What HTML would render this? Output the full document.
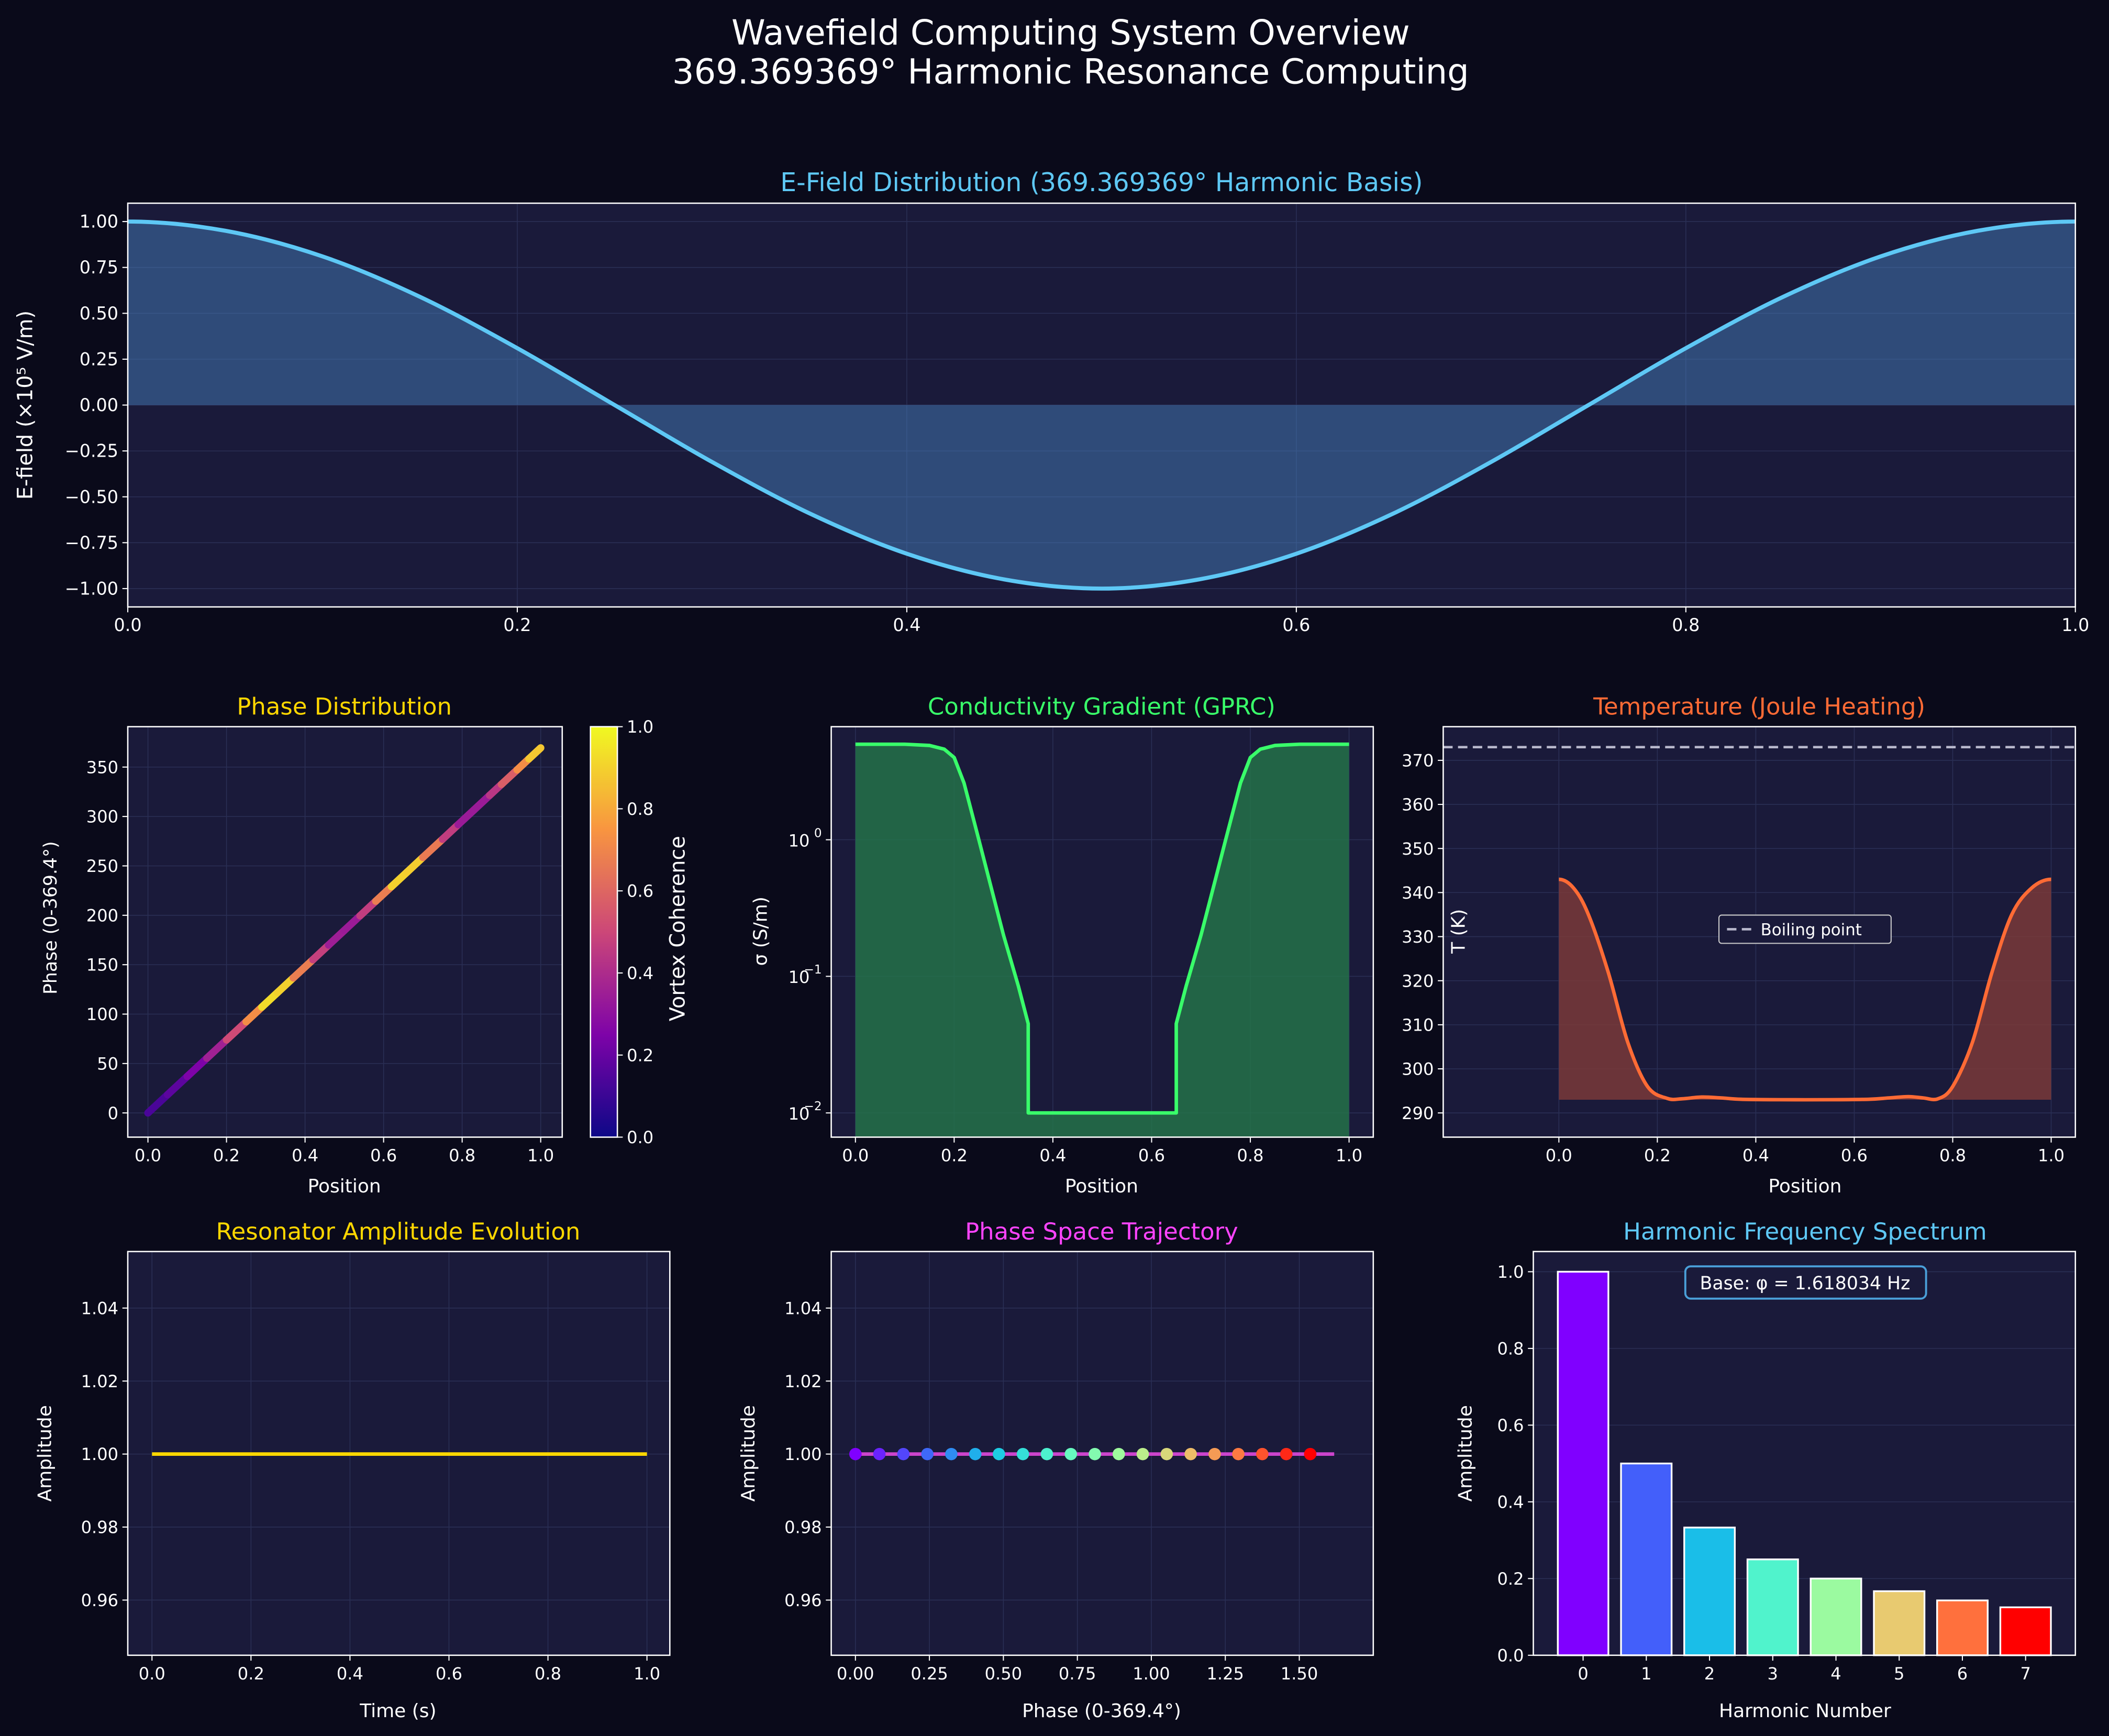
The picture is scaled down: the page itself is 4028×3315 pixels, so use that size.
<!DOCTYPE html>
<html><head><meta charset="utf-8"><style>
html,body{margin:0;padding:0;background:#0a0a1a;}
svg{display:block;font-family:"DejaVu Sans","Liberation Sans",sans-serif;}
</style></head><body>
<svg id="fig" xmlns="http://www.w3.org/2000/svg" width="4028" height="3315" viewBox="0 0 1568 1290" preserveAspectRatio="none">
<rect x="0" y="0" width="1568" height="1290" fill="#0a0a1a"/>
<text x="796" y="33" text-anchor="middle" font-size="25.5" fill="#ffffff">Wavefield Computing System Overview</text>
<text x="796" y="62" text-anchor="middle" font-size="25.5" fill="#ffffff">369.369369° Harmonic Resonance Computing</text>
</svg>
<script>
// ---------- data ----------
const efieldX = [0,0.05,0.1,0.15,0.2,0.25,0.3,0.35,0.4,0.45,0.5,0.55,0.6,0.65,0.7,0.75,0.8,0.85,0.9,0.95,1.0];
const efieldY = [1,0.95,0.81,0.59,0.31,0,-0.31,-0.59,-0.81,-0.95,-1,-0.95,-0.81,-0.59,-0.31,0,0.31,0.59,0.81,0.95,1];
const efieldYTicks = [-1.0,-0.75,-0.5,-0.25,0,0.25,0.5,0.75,1.0];
const efieldYLabels = ["\u22121.00","\u22120.75","\u22120.50","\u22120.25","0.00","0.25","0.50","0.75","1.00"];
const efieldXTicks = [0,0.2,0.4,0.6,0.8,1.0];

const phasePos = [0,0.05,0.1,0.15,0.2,0.25,0.29,0.33,0.37,0.42,0.46,0.5,0.54,0.58,0.62,0.66,0.7,0.75,0.79,0.83,0.87,0.9,0.94,0.97,1.0];
const phaseDeg = [0,18.5,36.9,55.4,73.9,92.3,107.1,121.9,136.7,155.1,169.9,184.7,199.5,214.3,229.0,243.8,258.6,277.0,291.8,306.6,321.4,332.5,347.2,358.3,369.4];
const phaseCoh = [0.12,0.15,0.2,0.3,0.42,0.6,0.85,1.0,0.8,0.55,0.4,0.3,0.38,0.55,0.8,1.0,0.78,0.55,0.38,0.3,0.38,0.5,0.65,0.8,0.95];
const phaseYTicks = [0,50,100,150,200,250,300,350];
const cbTicks = [0,0.2,0.4,0.6,0.8,1.0];

const condX = [0,0.1,0.15,0.18,0.2,0.22,0.25,0.28,0.3,0.33,0.35,0.3501,0.65,0.6499,0.67,0.7,0.72,0.75,0.78,0.8,0.82,0.85,0.9,1.0];
const condY = [5,5,4.9,4.6,4.0,2.6,1.0,0.38,0.2,0.085,0.045,0.01,0.01,0.045,0.085,0.2,0.38,1.0,2.6,4.0,4.6,4.9,5,5];
const condYTicks = [0.01,0.1,1];
const condYLabels = ["10","10","10"];
const condYExps = ["\u22122","\u22121","0"];
const posTicks = [0,0.2,0.4,0.6,0.8,1.0];

const tempX = [0,0.03,0.06,0.1,0.14,0.18,0.22,0.25,0.29,0.33,0.37,0.45,0.55,0.63,0.67,0.71,0.74,0.77,0.8,0.84,0.88,0.92,0.96,1.0];
const tempY = [343,341,335,322,306,296,293.3,293.2,293.6,293.4,293.1,293,293,293.1,293.4,293.7,293.4,293.2,296,306,322,335,341,343];
const tempYTicks = [290,300,310,320,330,340,350,360,370];
const boiling = [373];

const resT = [0,0.25,0.5,0.75,1.0];
const resA = [1,1,1,1,1];
const resYTicks = [0.96,0.98,1.00,1.02,1.04];

const psPhase = [0,0.081,0.162,0.243,0.324,0.405,0.485,0.566,0.647,0.728,0.809,0.890,0.971,1.052,1.133,1.214,1.294,1.375,1.456,1.537];
const psAmp = [1,1,1,1,1,1,1,1,1,1,1,1,1,1,1,1,1,1,1,1];
const psLineX = [0,1.618];
const psLineY = [1,1];
const psXTicks = [0,0.25,0.5,0.75,1.0,1.25,1.5];
const psXLabels = ["0.00","0.25","0.50","0.75","1.00","1.25","1.50"];

const harmN = [0,1,2,3,4,5,6,7];
const harmAmp = [1.0,0.5,0.333,0.25,0.2,0.167,0.143,0.125];
const harmYTicks = [0,0.2,0.4,0.6,0.8,1.0];

// ---------- helpers ----------
const NS = "http://www.w3.org/2000/svg";
const fig = document.getElementById('fig');
const TITLE_FS = 17.5, LABEL_FS = 14, TICK_FS = 12.5;
function mk(tag, attrs, parent) {
  const e = document.createElementNS(NS, tag);
  for (const k in attrs) e.setAttribute(k, attrs[k]);
  (parent || fig).appendChild(e);
  return e;
}
function lin(d0,d1,r0,r1){ return v => r0 + (v-d0)/(d1-d0)*(r1-r0); }
function smoothPath(pts){
  const n=pts.length;
  const first=[2*pts[0][0]-pts[1][0], pts[1][1]];
  const last=[2*pts[n-1][0]-pts[n-2][0], pts[n-2][1]];
  const P=[first].concat(pts,[last]);
  let d = "M"+pts[0][0]+","+pts[0][1];
  for (let i=1;i<P.length-2;i++){
    const p0=P[i-1], p1=P[i], p2=P[i+1], p3=P[i+2];
    const c1x=p1[0]+(p2[0]-p0[0])/6, c1y=p1[1]+(p2[1]-p0[1])/6;
    const c2x=p2[0]-(p3[0]-p1[0])/6, c2y=p2[1]-(p3[1]-p1[1])/6;
    d += " C"+c1x+","+c1y+" "+c2x+","+c2y+" "+p2[0]+","+p2[1];
  }
  return d;
}
function plasma(t){
  const s=[[0,[13,8,135]],[0.25,[126,3,168]],[0.5,[204,71,120]],[0.75,[248,149,64]],[1,[240,249,33]]];
  t=Math.max(0,Math.min(1,t));
  for(let i=0;i<s.length-1;i++){ if(t<=s[i+1][0]){ const f=(t-s[i][0])/(s[i+1][0]-s[i][0]); const a=s[i][1],b=s[i+1][1];
    return "rgb("+a.map((v,j)=>Math.round(v+(b[j]-v)*f)).join(",")+")"; } }
  return "rgb(240,249,33)";
}
function rainbow(t){
  const s=[[0,[128,0,255]],[0.15,[64,100,250]],[0.3,[22,200,230]],[0.45,[90,250,200]],[0.6,[170,250,150]],[0.72,[235,200,110]],[0.86,[255,110,60]],[1,[255,0,0]]];
  for(let i=0;i<s.length-1;i++){ if(t<=s[i+1][0]){ const f=(t-s[i][0])/(s[i+1][0]-s[i][0]); const a=s[i][1],b=s[i+1][1];
    return "rgb("+a.map((v,j)=>Math.round(v+(b[j]-v)*f)).join(",")+")"; } }
  return "rgb(255,0,0)";
}
function axesBox(name,x0,y0,x1,y1){
  const r = mk('rect',{x:x0,y:y0,width:x1-x0,height:y1-y0,fill:'#1a1a3a'});
  
  
  return r;
}
function axesFrame(name,x0,y0,x1,y1){
  const r = mk('rect',{x:x0,y:y0,width:x1-x0,height:y1-y0,fill:'none',stroke:'#ffffff','stroke-width':1});
  
  
}
function xTicks(name,ticks,labels,sx,y0,y1,fs){
  ticks.forEach((t,i)=>{
    const X=sx(t);
    const g=mk('line',{x1:X,x2:X,y1:y0,y2:y1,stroke:'#2a2f55','stroke-width':0.6});
    
    
    const tk=mk('line',{x1:X,x2:X,y1:y1,y2:y1+4,stroke:'#fff','stroke-width':0.8});
    
    
    const tx=mk('text',{x:X,y:y1+18,'text-anchor':'middle','font-size':fs||TICK_FS,fill:'#fff'});
    tx.textContent=labels[i];
    
    
  });
}
function yTicks(name,ticks,labels,sy,x0,x1,fs){
  ticks.forEach((t,i)=>{
    const Y=sy(t);
    const g=mk('line',{x1:x0,x2:x1,y1:Y,y2:Y,stroke:'#2a2f55','stroke-width':0.6});
    
    
    const tk=mk('line',{x1:x0-4,x2:x0,y1:Y,y2:Y,stroke:'#fff','stroke-width':0.8});
    
    
    const tx=mk('text',{x:x0-7,y:Y+4.5,'text-anchor':'end','font-size':fs||TICK_FS,fill:'#fff'});
    tx.textContent=labels[i];
    
    
  });
}
function title(name,txt,x,y,color,fs){
  const t=mk('text',{x:x,y:y,'text-anchor':'middle','font-size':fs||TITLE_FS,fill:color});
  t.textContent=txt;
  
  
}
function xlabel(name,txt,x,y){
  const t=mk('text',{x:x,y:y,'text-anchor':'middle','font-size':LABEL_FS,fill:'#fff'});
  t.textContent=txt;
  
  
}
function ylabel(name,txt,x,y,fs){
  const t=mk('text',{x:0,y:0,'text-anchor':'middle','font-size':fs||LABEL_FS,fill:'#fff',transform:'translate('+x+','+y+') rotate(-90)'});
  t.textContent=txt;
  
  
}

// ---------- Panel 1: E-field ----------
(function(){
  const n='efield', X0=95,X1=1543,Y0=151,Y1=451;
  const sx=lin(0,1,95,1543), sy=lin(-1.1,1.1,451,151);
  axesBox(n,X0,Y0,X1,Y1);
  xTicks(n,efieldXTicks,efieldXTicks.map(v=>v.toFixed(1)),sx,Y0,Y1,13);
  yTicks(n,efieldYTicks,efieldYLabels,sy,X0,X1,13);
  const pts=efieldX.map((v,i)=>[sx(v),sy(efieldY[i])]);
  const line=smoothPath(pts);
  const f=mk('path',{d:line+" L"+sx(1)+","+sy(0)+" L"+sx(0)+","+sy(0)+" Z",fill:'#4a88c8','fill-opacity':0.45});
  
  
  const p=mk('path',{d:line,fill:'none',stroke:'#5ec8f5','stroke-width':3});
  
  
  axesFrame(n,X0,Y0,X1,Y1);
  title(n,'E-Field Distribution (369.369369° Harmonic Basis)',819,142,'#5ec8f5',19);
  ylabel(n,'E-field (×10⁵ V/m)',24,301,15.5);
})();

// ---------- Panel 2: Phase distribution ----------
(function(){
  const n='phase', X0=95,X1=418,Y0=540,Y1=845;
  const sx=lin(0,1,110,402), sy=lin(0,350,827,570);
  axesBox(n,X0,Y0,X1,Y1);
  xTicks(n,posTicks,posTicks.map(v=>v.toFixed(1)),sx,Y0,Y1);
  yTicks(n,phaseYTicks,phaseYTicks.map(String),sy,X0,X1);
  for(let i=0;i<phasePos.length-1;i++){
    const l=mk('line',{x1:sx(phasePos[i]),y1:sy(phaseDeg[i]),x2:sx(phasePos[i+1]),y2:sy(phaseDeg[i+1]),stroke:plasma((phaseCoh[i]+phaseCoh[i+1])/2),'stroke-width':5.5,'stroke-linecap':'round'});
    
    
  }
  axesFrame(n,X0,Y0,X1,Y1);
  title(n,'Phase Distribution',256,531,'#ffd700');
  xlabel(n,'Position',256,886);
  ylabel(n,'Phase (0-369.4°)',42,682,13.5);
  const cx0=439,cx1=459;
  const defs=mk('defs',{});
  const lg=mk('linearGradient',{id:'plasmaGrad',x1:0,y1:1,x2:0,y2:0},defs);
  [0,0.25,0.5,0.75,1].forEach(t=>mk('stop',{offset:t,'stop-color':plasma(t)},lg));
  const cb=mk('rect',{x:cx0,y:Y0,width:cx1-cx0,height:Y1-Y0,fill:'url(#plasmaGrad)',stroke:'#fff','stroke-width':1});
  
  
  const cy=lin(0,1,Y1,Y0);
  cbTicks.forEach(t=>{
    const tk=mk('line',{x1:cx1,x2:cx1+4,y1:cy(t),y2:cy(t),stroke:'#fff','stroke-width':0.8});
    
    
    const tx=mk('text',{x:cx1+7,y:cy(t)+4.5,'font-size':TICK_FS,fill:'#fff'});
    tx.textContent=t.toFixed(1);
    
    
  });
  ylabel('colorbar','Vortex Coherence',509,690,15.5);
})();

// ---------- Panel 3: Conductivity ----------
(function(){
  const n='conductivity', X0=618,X1=1021,Y0=540,Y1=845;
  const sx=lin(0,1,636,1003);
  const sy=v=>624-Math.log10(v)*101.5;
  axesBox(n,X0,Y0,X1,Y1);
  xTicks(n,posTicks,posTicks.map(v=>v.toFixed(1)),sx,Y0,Y1);
  condYTicks.forEach((t,i)=>{
    const Y=sy(t);
    const g=mk('line',{x1:X0,x2:X1,y1:Y,y2:Y,stroke:'#2a2f55','stroke-width':0.6});
    
    
    const tk=mk('line',{x1:X0-4,x2:X0,y1:Y,y2:Y,stroke:'#fff','stroke-width':0.8});
    
    
    const tx=mk('text',{x:X0-16,y:Y+5,'text-anchor':'end','font-size':TICK_FS,fill:'#fff'});
    tx.textContent=condYLabels[i];
    
    
    const ex=mk('text',{x:X0-7,y:Y-2,'text-anchor':'end','font-size':9,fill:'#fff'});
    ex.textContent=condYExps[i];
    
    
  });
  const pts=condX.map((v,i)=>[sx(v),sy(condY[i])]);
  let d="M"+pts.map(p=>p[0]+","+p[1]).join(" L");
  const f=mk('path',{d:d+" L"+sx(1)+","+Y1+" L"+sx(0)+","+Y1+" Z",fill:'#24774a','fill-opacity':0.8});
  
  
  const p=mk('path',{d:d,fill:'none',stroke:'#39ff6a','stroke-width':2.6,'stroke-linejoin':'round'});
  
  
  axesFrame(n,X0,Y0,X1,Y1);
  title(n,'Conductivity Gradient (GPRC)',819,531,'#39ff6a');
  xlabel(n,'Position',819,886);
  ylabel(n,'σ (S/m)',570,692);
})();

// ---------- Panel 4: Temperature ----------
(function(){
  const n='temperature', X0=1073,X1=1543,Y0=540,Y1=845;
  const sx=lin(0,1,1159,1525), sy=lin(290,370,827,565);
  axesBox(n,X0,Y0,X1,Y1);
  xTicks(n,posTicks,posTicks.map(v=>v.toFixed(1)),sx,Y0,Y1);
  yTicks(n,tempYTicks,tempYTicks.map(String),sy,X0,X1);
  const pts=tempX.map((v,i)=>[sx(v),sy(tempY[i])]);
  const line=smoothPath(pts);
  const f=mk('path',{d:line+" L"+sx(1)+","+sy(293)+" L"+sx(0)+","+sy(293)+" Z",fill:'#7a3a3a','fill-opacity':0.85});
  
  
  const p=mk('path',{d:line,fill:'none',stroke:'#ff6b35','stroke-width':2.6});
  
  
  const b=mk('line',{x1:X0,x2:X1,y1:sy(boiling[0]),y2:sy(boiling[0]),stroke:'#b8b8cc','stroke-width':1.8,'stroke-dasharray':'7,4'});
  
  
  axesFrame(n,X0,Y0,X1,Y1);
  const lb=mk('rect',{x:1278,y:680,width:128,height:21,rx:2,fill:'#1a1a3a',stroke:'#cccccc','stroke-width':0.8});
  
  
  const ll=mk('line',{x1:1284,x2:1302,y1:690.5,y2:690.5,stroke:'#b8b8cc','stroke-width':1.8,'stroke-dasharray':'7,4'});
  
  
  const lt=mk('text',{x:1309,y:695,'font-size':12,fill:'#fff'});
  lt.textContent='Boiling point';
  
  
  title(n,'Temperature (Joule Heating)',1308,531,'#ff6b35');
  xlabel(n,'Position',1342,886);
  ylabel(n,'T (K)',1089,692);
})();

// ---------- Panel 5: Resonator ----------
(function(){
  const n='resonator', X0=95,X1=498,Y0=930,Y1=1230;
  const sx=lin(0,1,113,481), sy=lin(0.96,1.04,1189,972);
  axesBox(n,X0,Y0,X1,Y1);
  xTicks(n,posTicks,posTicks.map(v=>v.toFixed(1)),sx,Y0,Y1);
  yTicks(n,resYTicks,resYTicks.map(v=>v.toFixed(2)),sy,X0,X1);
  const p=mk('path',{d:"M"+resT.map((v,i)=>sx(v)+","+sy(resA[i])).join(" L"),fill:'none',stroke:'#ffd700','stroke-width':2.6});
  
  
  axesFrame(n,X0,Y0,X1,Y1);
  title(n,'Resonator Amplitude Evolution',296,921,'#ffd700');
  xlabel(n,'Time (s)',296,1276);
  ylabel(n,'Amplitude',38,1080);
})();

// ---------- Panel 6: Phase space ----------
(function(){
  const n='phase-space', X0=618,X1=1021,Y0=930,Y1=1230;
  const sx=lin(0,1.5,636,966), sy=lin(0.96,1.04,1189,972);
  axesBox(n,X0,Y0,X1,Y1);
  xTicks(n,psXTicks,psXLabels,sx,Y0,Y1);
  yTicks(n,resYTicks,resYTicks.map(v=>v.toFixed(2)),sy,X0,X1);
  const p=mk('path',{d:"M"+psLineX.map((v,i)=>sx(v)+","+sy(psLineY[i])).join(" L"),fill:'none',stroke:'#cc44cc','stroke-width':2.6});
  
  
  psPhase.forEach((v,i)=>{
    const c=mk('circle',{cx:sx(v),cy:sy(psAmp[i]),r:4.6,fill:rainbow(i/(psPhase.length-1))});
    
    
  });
  axesFrame(n,X0,Y0,X1,Y1);
  title(n,'Phase Space Trajectory',819,921,'#ff44ff');
  xlabel(n,'Phase (0-369.4°)',819,1276);
  ylabel(n,'Amplitude',561,1080);
})();

// ---------- Panel 7: Harmonic spectrum ----------
(function(){
  const n='harmonic', X0=1140,X1=1543,Y0=930,Y1=1230;
  const sx=lin(0,7,1177,1506), sy=lin(0,1,1230,945);
  axesBox(n,X0,Y0,X1,Y1);
  yTicks(n,harmYTicks,harmYTicks.map(v=>v.toFixed(1)),sy,X0,X1);
  const bw=(sx(1)-sx(0))*0.8;
  harmN.forEach((h,i)=>{
    const r=mk('rect',{x:sx(h)-bw/2,y:sy(harmAmp[i]),width:bw,height:sy(0)-sy(harmAmp[i]),fill:rainbow(i/(harmN.length-1)),stroke:'#fff','stroke-width':1.3});
    
    
  });
  harmN.forEach(h=>{
    const X=sx(h);
    const tk=mk('line',{x1:X,x2:X,y1:Y1,y2:Y1+4,stroke:'#fff','stroke-width':0.8});
    
    
    const tx=mk('text',{x:X,y:Y1+18,'text-anchor':'middle','font-size':TICK_FS,fill:'#fff'});
    tx.textContent=String(h);
    
    
  });
  axesFrame(n,X0,Y0,X1,Y1);
  const bx=mk('rect',{x:1253,y:941,width:179,height:24,rx:4,fill:'#1a1a3a',stroke:'#4a9fd8','stroke-width':1.5});
  
  
  const bt=mk('text',{x:1342,y:958,'text-anchor':'middle','font-size':13.5,fill:'#fff'});
  bt.textContent='Base: φ = 1.618034 Hz';
  
  
  title(n,'Harmonic Frequency Spectrum',1342,921,'#5ec8f5');
  xlabel(n,'Harmonic Number',1342,1276);
  ylabel(n,'Amplitude',1094,1080);
})();
</script>
</body></html>
